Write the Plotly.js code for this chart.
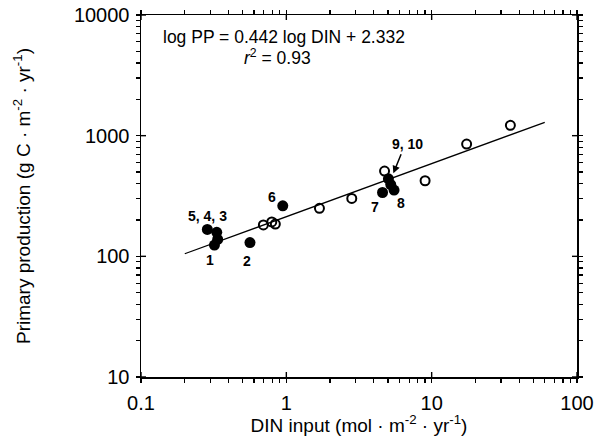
<!DOCTYPE html>
<html>
<head>
<meta charset="utf-8">
<script src="https://cdn.plot.ly/plotly-3.0.1.min.js"></script>
<style>html,body{margin:0;padding:0;background:#fff;}#chart{width:598px;height:436px;}</style>
</head>
<body>
<div id="chart"></div>
<script>
// Filled points (numbered sites 1-10)
const filledX = [0.286, 0.332, 0.337, 0.320, 0.562, 0.945, 4.59, 5.51, 5.04, 5.23];
const filledY = [167, 158, 138, 124, 130, 262, 338, 354, 439, 393];
// Open points
const openX = [0.695, 0.794, 0.840, 1.69, 2.82, 4.74, 9.01, 17.4, 34.8];
const openY = [182, 193, 185, 250, 302, 509, 423, 852, 1217];
// Regression line end points
const lineX = [0.2, 60];
const lineY = [105, 1290];
// Tick labels
const xTickVals = [0.1, 1, 10, 100];
const xTickText = ['0.1', '1', '10', '100'];
const yTickVals = [10, 100, 1000, 10000];
const yTickText = ['10', '100', '1000', '10000'];
// Point labels
const labelText = ['5, 4, 3', '1', '2', '6', '7', '8', '9, 10'];
const labelX = [0.287, 0.298, 0.539, 0.793, 4.07, 6.12, 6.77];
const labelY = [216, 93, 92, 312, 258, 278, 853];
// Arrow (tail -> head) for label 9, 10
const arrowTail = [6.22, 722];
const arrowHead = [5.45, 488];

const FONT = 'Liberation Sans, Arial, Helvetica, sans-serif';
const L = Math.log10;
const X_RANGE = [-1, 2], Y_RANGE = [1, 4];
const W = 598, H = 436, M = {l: 141, r: 21, t: 15, b: 59};
const PW = W - M.l - M.r, PH = H - M.t - M.b;

// minor tick positions (2..9 within each decade)
function minorTicks(decades) {
  const out = [];
  decades.forEach(d => { for (let k = 2; k <= 9; k++) out.push(k * d); });
  return out;
}
const xMinor = minorTicks([0.1, 1, 10]);
const yMinor = minorTicks([10, 100, 1000]);

// all ticks (major labelled, minor blank) drawn by the axis itself
const xAllVals = xTickVals.concat(xMinor);
const xAllText = xTickText.concat(xMinor.map(() => ''));
const yAllVals = yTickVals.concat(yMinor);
const yAllText = yTickText.concat(yMinor.map(() => ''));

// major ticks also reach inside the frame (crossing ticks), as shapes
const IN = 5;
const shapes = [];
const majLine = {color: '#000', width: 1.4};
xTickVals.forEach(v => {
  const f = (L(v) - X_RANGE[0]) / (X_RANGE[1] - X_RANGE[0]);
  shapes.push({type: 'line', xref: 'paper', yref: 'paper', x0: f, x1: f, y0: 0, y1: IN / PH, line: majLine});
  shapes.push({type: 'line', xref: 'paper', yref: 'paper', x0: f, x1: f, y0: 1, y1: 1 - IN / PH, line: majLine});
});
yTickVals.forEach(v => {
  const f = (L(v) - Y_RANGE[0]) / (Y_RANGE[1] - Y_RANGE[0]);
  shapes.push({type: 'line', xref: 'paper', yref: 'paper', y0: f, y1: f, x0: 0, x1: IN / PW, line: majLine});
  shapes.push({type: 'line', xref: 'paper', yref: 'paper', y0: f, y1: f, x0: 1, x1: 1 - IN / PW, line: majLine});
});

const traces = [
  {x: lineX, y: lineY, mode: 'lines', type: 'scatter',
   line: {color: '#000', width: 1.2}, hoverinfo: 'skip'},
  {x: openX, y: openY, mode: 'markers', type: 'scatter',
   marker: {symbol: 'circle-open', size: 9, color: '#000', line: {width: 2, color: '#000'}}},
  {x: filledX, y: filledY, mode: 'markers', type: 'scatter',
   marker: {symbol: 'circle', size: 11, color: '#000'}}
];

const annotations = labelText.map((t, i) => ({
  x: L(labelX[i]), y: L(labelY[i]), xref: 'x', yref: 'y',
  text: '<b>' + t + '</b>', showarrow: false, xanchor: 'center', yanchor: 'middle',
  font: {family: FONT, size: 14, color: '#000'}
}));
annotations.push({
  x: L(arrowHead[0]), y: L(arrowHead[1]), ax: L(arrowTail[0]), ay: L(arrowTail[1]),
  xref: 'x', yref: 'y', axref: 'x', ayref: 'y', text: '',
  showarrow: true, arrowhead: 2, arrowsize: 1, arrowwidth: 1.5, arrowcolor: '#000'
});
annotations.push({
  x: 0.328, y: 0.939, xref: 'paper', yref: 'paper', showarrow: false,
  xanchor: 'center', yanchor: 'middle',
  text: 'log PP = 0.442 log DIN + 2.332', font: {family: FONT, size: 17.5, color: '#000'}
});
annotations.push({
  x: 0.313, y: 0.884, xref: 'paper', yref: 'paper', showarrow: false,
  xanchor: 'center', yanchor: 'middle',
  text: '<i>r</i><sup>2</sup> = 0.93', font: {family: FONT, size: 17.5, color: '#000'}
});

const axisCommon = {
  type: 'log', showgrid: false, zeroline: false,
  showline: true, linecolor: '#000', linewidth: 1.5, mirror: 'ticks',
  ticks: 'outside', ticklen: 4, tickwidth: 1.2, tickcolor: '#000',
  tickfont: {family: FONT, size: 20, color: '#000'}
};

const layout = {
  width: W, height: H,
  margin: M,
  paper_bgcolor: '#fff', plot_bgcolor: '#fff',
  showlegend: false,
  xaxis: Object.assign({}, axisCommon, {
    range: X_RANGE, tickmode: 'array', tickvals: xAllVals, ticktext: xAllText, ticklabelstandoff: 3,
    title: {text: 'DIN input (mol · m<sup>-2</sup> · yr<sup>-1</sup>)', font: {family: FONT, size: 19, color: '#000'}, standoff: 4}
  }),
  yaxis: Object.assign({}, axisCommon, {
    range: Y_RANGE, tickmode: 'array', tickvals: yAllVals, ticktext: yAllText, ticklabelstandoff: 2,
    title: {text: 'Primary production (g C · m<sup>-2</sup> · yr<sup>-1</sup>)', font: {family: FONT, size: 19, color: '#000'}, standoff: 38}
  }),
  shapes: shapes,
  annotations: annotations
};

Plotly.newPlot('chart', traces, layout, {displayModeBar: false, staticPlot: true});
</script>
</body>
</html>
